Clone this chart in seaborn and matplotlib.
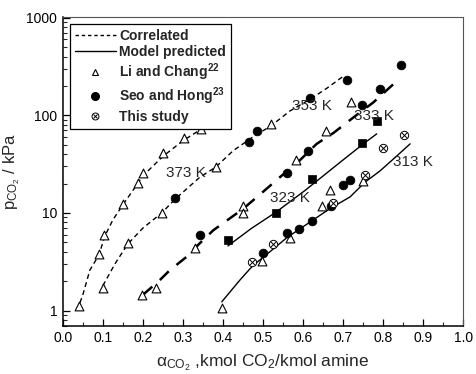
import numpy as np
import pandas as pd
import matplotlib
matplotlib.use("Agg")
import matplotlib.pyplot as plt
import seaborn as sns
from matplotlib.lines import Line2D
from matplotlib.legend_handler import HandlerTuple
from matplotlib.ticker import FixedLocator, FuncFormatter, LogLocator, MultipleLocator

# ---------------- data ----------------
# Li and Chang (open triangles)
li_x = [0.04, 0.091, 0.104, 0.151, 0.188, 0.200, 0.251, 0.3025, 0.344,
        0.101, 0.162, 0.247, 0.382, 0.520, 0.720,
        0.199, 0.232, 0.331, 0.451, 0.451, 0.5825, 0.6575,
        0.397, 0.498, 0.5675, 0.648, 0.6675, 0.751]
li_y = [1.12, 3.76, 5.9, 12.3, 20.2, 25.6, 41.0, 58.8, 72.6,
        1.72, 4.87, 10.0, 29.6, 81.7, 136.0,
        1.45, 1.72, 4.4, 11.7, 10.0, 35.0, 69.8,
        1.06, 3.2, 5.56, 11.7, 17.1, 21.2]

# Seo and Hong (filled circles)
seo_x = [0.279, 0.465, 0.484, 0.6175, 0.711,
         0.3425, 0.561, 0.6125, 0.747, 0.7925, 0.844,
         0.499, 0.561, 0.590, 0.6225, 0.670, 0.700, 0.7175]
seo_y = [14.4, 53.9, 68.7, 150.6, 230.0,
         5.92, 25.6, 43.6, 128.6, 186.0, 329.0,
         3.9, 6.25, 6.93, 8.3, 11.7, 19.2, 21.9]

# This study (crossed circles)
this_x = [0.473, 0.524, 0.674, 0.755, 0.801, 0.8525]
this_y = [3.16, 4.8, 12.7, 24.2, 46.5, 63.0]

# unlabelled filled squares
sq_x = [0.4125, 0.5325, 0.622, 0.748, 0.784]
sq_y = [5.27, 10.0, 22.4, 52.3, 86.9]

# correlated curves (dashed)
c373_x = [0.036, 0.051, 0.0675, 0.09, 0.105, 0.125, 0.151, 0.175, 0.200, 0.250, 0.300, 0.350, 0.380]
c373_y = [1.0, 1.5, 2.6, 3.7, 5.8, 8.5, 12.3, 17.0, 24.0, 38.0, 55.0, 74.0, 85.0]
c353_x = [0.100, 0.130, 0.162, 0.200, 0.247, 0.280, 0.3425, 0.382, 0.426, 0.480, 0.520, 0.5675, 0.620, 0.660, 0.700]
c353_y = [1.8, 3.0, 4.8, 7.0, 10.0, 13.8, 23.3, 29.5, 43.6, 62.0, 78.0, 111.0, 148.0, 190.0, 250.0]
c333_x = [0.200, 0.2425, 0.2675, 0.309, 0.340, 0.376, 0.450, 0.509, 0.5425, 0.590, 0.634, 0.676, 0.730, 0.776, 0.826]
c333_y = [1.45, 2.06, 2.6, 3.55, 4.8, 6.66, 11.0, 17.7, 23.3, 34.0, 51.0, 66.0, 98.0, 136.0, 209.0]

# model predicted curves (solid)
m323_x = [0.4125, 0.470, 0.5325, 0.605, 0.6925, 0.748, 0.784]
m323_y = [4.6, 6.9, 10.2, 17.0, 33.0, 50.0, 64.6]
m313_x = [0.397, 0.4425, 0.476, 0.500, 0.560, 0.620, 0.6675, 0.7175, 0.755, 0.7925, 0.830, 0.8675]
m313_y = [1.23, 2.06, 2.93, 3.5, 5.6, 8.2, 11.1, 14.6, 20.7, 27.0, 37.0, 51.0]

temp_labels = ["373 K", "353 K", "333 K", "323 K", "313 K"]
temp_lx = [0.2575, 0.5725, 0.727, 0.5175, 0.826]
temp_ly = [25.5, 125.0, 99.0, 14.1, 32.9]

x_ticks = [0.0, 0.1, 0.2, 0.3, 0.4, 0.5, 0.6, 0.7, 0.8, 0.9, 1.0]
y_ticks = [1, 10, 100, 1000]

# ---------------- styling ----------------
sns.set_theme(style="ticks")
plt.rcParams["font.family"] = ["Liberation Sans", "DejaVu Sans"]
plt.rcParams["mathtext.fontset"] = "custom"
plt.rcParams["mathtext.rm"] = "Liberation Sans"
plt.rcParams["mathtext.it"] = "Liberation Sans"
plt.rcParams["mathtext.bf"] = "Liberation Sans:bold"

fig = plt.figure(figsize=(4.76, 3.74), dpi=100)
ax = fig.add_axes([0.132, 0.129, 0.841, 0.826])

short_dash = (0, (3.5, 2.5))
long_dash = (0, (5, 4))

for cx, cy, ls, lw in [(c373_x, c373_y, short_dash, 1.0),
                       (c353_x, c353_y, short_dash, 1.0),
                       (c333_x, c333_y, long_dash, 1.8)]:
    sns.lineplot(x=cx, y=cy, ax=ax, estimator=None, sort=False,
                 color="black", linewidth=lw, linestyle=ls, zorder=2)
for mx, my in [(m323_x, m323_y), (m313_x, m313_y)]:
    sns.lineplot(x=mx, y=my, ax=ax, estimator=None, sort=False,
                 color="black", linewidth=1.0, zorder=2)

sns.scatterplot(x=li_x, y=li_y, ax=ax, marker="^", s=40, facecolor="white",
                edgecolor="black", linewidth=0.8, zorder=3)
sns.scatterplot(x=seo_x, y=seo_y, ax=ax, marker="o", s=40, color="black",
                edgecolor="black", linewidth=0.5, zorder=3)
sns.scatterplot(x=sq_x, y=sq_y, ax=ax, marker="s", s=26, color="black",
                edgecolor="black", linewidth=0.5, zorder=3)
sns.scatterplot(x=this_x, y=this_y, ax=ax, marker="o", s=36, facecolor="white",
                edgecolor="black", linewidth=0.7, zorder=3)
sns.scatterplot(x=this_x, y=this_y, ax=ax, marker="x", s=16, color="black",
                linewidth=0.7, zorder=4)

for t, tx, ty in zip(temp_labels, temp_lx, temp_ly):
    ax.text(tx, ty, t, fontsize=11, va="center", ha="left", zorder=5)

ax.set_yscale("log")
ax.set_xlim(0, 1.0)
ax.set_ylim(0.70, 1020)
ax.xaxis.set_major_locator(FixedLocator(x_ticks))
ax.xaxis.set_minor_locator(MultipleLocator(0.05))
ax.yaxis.set_major_locator(FixedLocator(y_ticks))
ax.yaxis.set_minor_locator(LogLocator(base=10, subs=np.arange(2, 10)))
ax.yaxis.set_minor_formatter(FuncFormatter(lambda v, p: ""))
ax.yaxis.set_major_formatter(FuncFormatter(lambda v, p: f"{int(round(v))}"))
ax.xaxis.set_major_formatter(FuncFormatter(lambda v, p: f"{v:.1f}"))

ax.tick_params(axis="both", which="major", direction="in", length=5, width=0.9,
               labelsize=10, colors="black", pad=4, top=False, right=False)
ax.tick_params(axis="both", which="minor", direction="in", length=3, width=0.8,
               top=False, right=False)
for s in ["left", "bottom"]:
    ax.spines[s].set_linewidth(1.1)
    ax.spines[s].set_color("black")
for s in ["top", "right"]:
    ax.spines[s].set_visible(True)
    ax.spines[s].set_linewidth(0.8)
    ax.spines[s].set_color("#555555")

ax.set_xlabel(r"$\alpha_{\mathrm{CO_2}}$ ,kmol CO$_2$/kmol amine", fontsize=12.5, labelpad=5)
ax.set_ylabel(r"p$_{\mathrm{CO_2}}$ / kPa", fontsize=12, labelpad=3)
ax.grid(False)

handles = [
    Line2D([], [], color="black", linestyle=(0, (2.5, 2)), linewidth=1.0),
    Line2D([], [], color="black", linestyle="-", linewidth=1.0),
    Line2D([], [], color="black", marker="^", linestyle="none", markersize=5,
           markerfacecolor="white", markeredgewidth=0.8),
    Line2D([], [], color="black", marker="o", linestyle="none", markersize=5.5),
    (Line2D([], [], color="black", marker="o", linestyle="none", markersize=5,
            markerfacecolor="white", markeredgewidth=0.7),
     Line2D([], [], color="black", marker="x", linestyle="none", markersize=3,
            markeredgewidth=0.7)),
]
labels = ["Correlated", "Model predicted", r"Li and Chang$^{\mathbf{22}}$",
          r"Seo and Hong$^{\mathbf{23}}$", "This study"]
leg = ax.legend(handles, labels, loc="upper left", bbox_to_anchor=(0.0, 1.0),
                frameon=True, fancybox=False, edgecolor="black", framealpha=1,
                prop={"weight": "bold", "size": 10}, handlelength=3.0,
                handletextpad=0.2, labelspacing=0.18, borderpad=0.35,
                handler_map={tuple: HandlerTuple(ndivide=1)})
leg.get_frame().set_linewidth(0.9)
leg.set_zorder(10)

fig.savefig("out.png", dpi=100)
